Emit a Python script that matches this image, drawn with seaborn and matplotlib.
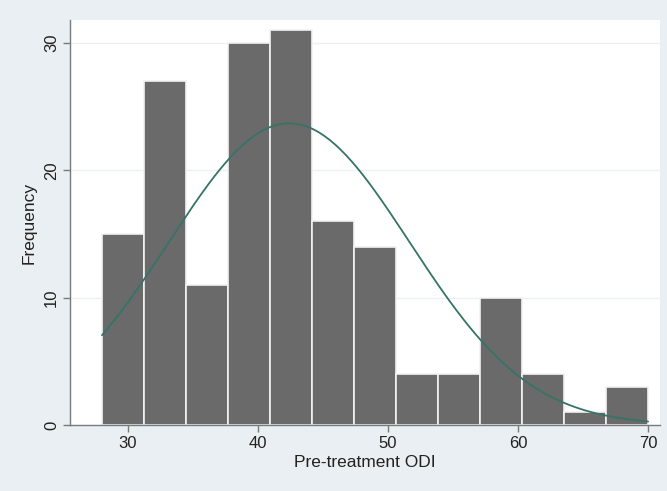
import numpy as np
import pandas as pd
import matplotlib
matplotlib.use("Agg")
import matplotlib.pyplot as plt
import seaborn as sns

# histogram of pre-treatment ODI (Stata style, freq + normal overlay)
bin_start = 28.0
bin_end = 70.0
counts = [15, 27, 11, 30, 31, 16, 14, 4, 4, 10, 4, 1, 3]
odi_mean = 42.4   # normal curve parameters
odi_sd = 9.25
x_ticks = [30, 40, 50, 60, 70]
y_ticks = [0, 10, 20, 30]

edges = np.linspace(bin_start, bin_end, len(counts) + 1)
width = edges[1] - edges[0]
df = pd.DataFrame({"mid": (edges[:-1] + edges[1:]) / 2, "n": counts})

n_total = sum(counts)
xs = np.linspace(bin_start, bin_end, 200)
curve = pd.DataFrame({
    "x": xs,
    "y": n_total * width / (odi_sd * np.sqrt(2 * np.pi))
         * np.exp(-0.5 * ((xs - odi_mean) / odi_sd) ** 2),
})

sns.set_theme(style="white")
plt.rcParams["font.family"] = ["Liberation Sans", "DejaVu Sans"]

bg = "#e9eff2"
fig = plt.figure(figsize=(6.67, 4.91), dpi=100, facecolor=bg)
ax = fig.add_axes([70 / 667, (491 - 425) / 491, 590 / 667, 405 / 491])
ax.set_facecolor("white")

sns.histplot(data=df, x="mid", weights="n", bins=edges.tolist(), ax=ax,
             color="#6a6a6a", alpha=1, edgecolor="#f2f2f2", linewidth=1.2)
sns.lineplot(data=curve, x="x", y="y", ax=ax, color="#357466", linewidth=1.3)

ax.set_xlim(25.54, 70.92)
ax.set_ylim(0, 31.8)
ax.set_xticks(x_ticks)
ax.set_yticks(y_ticks)
ax.set_yticklabels([str(t) for t in y_ticks], rotation=90, va="center")
for t in [10, 20, 30]:
    ax.axhline(t, color="#edf1f3", linewidth=1, zorder=0)

for s in ["top", "right"]:
    ax.spines[s].set_visible(False)
for s in ["left", "bottom"]:
    ax.spines[s].set_color("#7a7a7a")
    ax.spines[s].set_linewidth(1)
ax.tick_params(axis="both", length=5, width=1, color="#7a7a7a",
               labelsize=12, labelcolor="#222222", pad=3, bottom=True, left=True)

ax.set_xlabel("Pre-treatment ODI", fontsize=12.5, color="#222222", labelpad=3)
ax.set_ylabel("Frequency", fontsize=12.5, color="#222222", labelpad=5)

fig.savefig("out.png", dpi=100, facecolor=bg)
